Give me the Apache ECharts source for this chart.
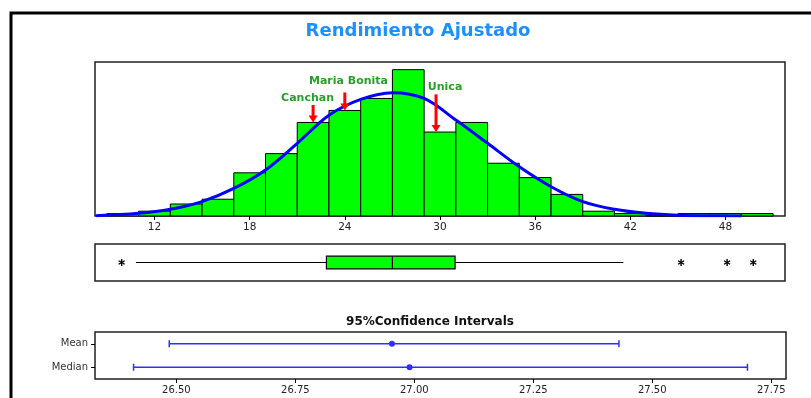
<!DOCTYPE html>
<html>
<head>
<meta charset="utf-8">
<script src="https://cdn.jsdelivr.net/npm/echarts@6/dist/echarts.min.js"></script>
<style>
  html, body { margin: 0; padding: 0; background: #ffffff; }
  #chart { width: 811px; height: 398px; }
</style>
</head>
<body>
<div id="chart"></div>
<script>
// ---- Data -------------------------------------------------------------
// Histogram: bins of width 2 starting at each value below
const binWidth = 2;
const binStarts = [9, 11, 13, 15, 17, 19, 21, 23, 25, 27, 29, 31, 33, 35, 37, 39, 41, 43, 45, 47, 49];
const binCounts = [1, 2, 5, 7, 18, 26, 39, 44, 49, 61, 35, 39, 22, 16, 9, 2, 1, 0, 1, 1, 1];

// Fitted normal curve (frequency scale)
const curveX = [8.3, 11, 13, 15, 17, 19, 21, 23, 25, 27, 29, 31, 33, 35, 37, 39, 41, 43, 45, 47, 49];
const curveY = [0.1, 1.1, 2.8, 6, 11.5, 19.2, 30.3, 42, 48.6, 51.4, 49, 40, 30.3, 20.5, 12.2, 6, 2.8, 1.1, 0.3, 0.1, 0];

const histTicks = [12, 18, 24, 30, 36, 42, 48];

// Variety markers on the histogram
const annotNames = ['Canchan', 'Maria Bonita', 'Unica'];
const annotX = [22, 24, 29.75];
const annotTop = [46.3, 51.5, 50.7];
const annotTip = [39, 44, 35];
const annotLabelX = [21.65, 24.23, 30.32];
const annotLabelY = [49.3, 56.25, 53.9];

// Boxplot: whisker low, Q1, median, Q3, whisker high
const boxStats = [10.83, 22.84, 27.0, 30.95, 41.56];
const outliers = [9.93, 45.2, 48.1, 49.75];

// 95% confidence intervals
const ciNames = ['Mean', 'Median'];
const ciLow = [26.485, 26.41];
const ciCenter = [26.953, 26.99];
const ciHigh = [27.43, 27.70];
const ciTicks = [26.5, 26.75, 27.0, 27.25, 27.5, 27.75];

// ---- Chart ------------------------------------------------------------
const chart = echarts.init(document.getElementById('chart'));
const FONT = '"DejaVu Sans", Verdana, sans-serif';
const xMin = 8.25, xMax = 51.75;

const gridBorder = { show: true, borderColor: '#222', borderWidth: 1.5, backgroundColor: 'transparent' };

const option = {
  animation: false,
  backgroundColor: '#ffffff',
  textStyle: { fontFamily: FONT },
  graphic: [
    { type: 'rect', z: 100, silent: true,
      shape: { x: 11, y: 13, width: 900, height: 500 },
      style: { fill: 'none', stroke: '#000', lineWidth: 3 } },
    { type: 'text', z: 100, x: 418, y: 31,
      style: { text: 'Rendimiento Ajustado', fill: '#1e8fff', font: 'bold 18px ' + FONT,
               align: 'center', verticalAlign: 'middle' } },
    { type: 'text', z: 100, x: 430, y: 322,
      style: { text: '95%Confidence Intervals', fill: '#111', font: 'bold 12px ' + FONT,
               align: 'center', verticalAlign: 'middle' } }
  ],
  grid: [
    Object.assign({ left: 95, right: 26, top: 62, height: 154 }, gridBorder),
    Object.assign({ left: 95, right: 26, top: 244, height: 37 }, gridBorder),
    Object.assign({ left: 95, right: 25, top: 332, height: 47 }, gridBorder)
  ],
  xAxis: [
    { type: 'value', gridIndex: 0, min: xMin, max: xMax,
      splitLine: { show: false }, axisLine: { show: false },
      axisTick: { show: true, inside: false, length: 4, customValues: histTicks,
                  lineStyle: { color: '#000', width: 1 } },
      axisLabel: { show: true, customValues: histTicks, margin: 6, color: '#222',
                   fontSize: 10.5, fontFamily: FONT } },
    { type: 'value', gridIndex: 1, min: xMin, max: xMax, show: false },
    { type: 'value', gridIndex: 2, min: 26.329, max: 27.781,
      splitLine: { show: false }, axisLine: { show: false },
      axisTick: { show: true, inside: false, length: 4, customValues: ciTicks,
                  lineStyle: { color: '#000', width: 1 } },
      axisLabel: { show: true, customValues: ciTicks, margin: 6, color: '#222',
                   fontSize: 10, fontFamily: FONT,
                   formatter: v => Number(v).toFixed(2) } }
  ],
  yAxis: [
    { type: 'value', gridIndex: 0, min: 0, max: 64.2, show: false },
    { type: 'category', gridIndex: 1, data: ['box'], show: false },
    { type: 'category', gridIndex: 2, data: ciNames, inverse: true,
      axisLine: { show: false }, splitLine: { show: false },
      axisTick: { show: true, alignWithLabel: true, length: 4, lineStyle: { color: '#000' } },
      axisLabel: { margin: 7, color: '#333', fontSize: 10, fontFamily: FONT } }
  ],
  series: [
    // histogram bars
    {
      type: 'custom', xAxisIndex: 0, yAxisIndex: 0, z: 2,
      data: binStarts.map((s, i) => [s, s + binWidth, binCounts[i]]),
      encode: { x: [0, 1], y: 2 },
      renderItem: (params, api) => {
        const p0 = api.coord([api.value(0), api.value(2)]);
        const p1 = api.coord([api.value(1), 0]);
        return { type: 'rect',
          shape: { x: p0[0], y: p0[1], width: p1[0] - p0[0], height: p1[1] - p0[1] },
          style: { fill: '#00ff00', stroke: '#000', lineWidth: 1 } };
      }
    },
    // normal curve
    {
      type: 'line', xAxisIndex: 0, yAxisIndex: 0, z: 3,
      data: curveX.map((x, i) => [x, curveY[i]]),
      smooth: 0.35, showSymbol: false, symbol: 'none',
      lineStyle: { color: '#0000ff', width: 3 }
    },
    // variety arrows and names
    {
      type: 'custom', xAxisIndex: 0, yAxisIndex: 0, z: 4,
      data: annotX.map((x, i) => [x, annotTop[i], annotTip[i], annotLabelX[i], annotLabelY[i]]),
      encode: { x: [0, 3], y: [1, 2, 4] },
      renderItem: (params, api) => {
        const a = api.coord([api.value(0), api.value(1)]);
        const b = api.coord([api.value(0), api.value(2)]);
        const l = api.coord([api.value(3), api.value(4)]);
        return { type: 'group', children: [
          { type: 'line', shape: { x1: a[0], y1: a[1], x2: b[0], y2: b[1] - 5 },
            style: { stroke: '#ff0000', lineWidth: 3 } },
          { type: 'polygon', shape: { points: [[b[0] - 4.5, b[1] - 7], [b[0] + 4.5, b[1] - 7], [b[0], b[1]]] },
            style: { fill: '#ff0000' } },
          { type: 'text', x: l[0], y: l[1],
            style: { text: annotNames[params.dataIndex], fill: '#2e9b2e',
                     font: 'bold 11px ' + FONT, align: 'center', verticalAlign: 'middle' } }
        ] };
      }
    },
    // boxplot
    {
      type: 'custom', xAxisIndex: 1, yAxisIndex: 1, z: 2,
      data: [boxStats.concat([0])],
      encode: { x: [0, 1, 2, 3, 4], y: 5 },
      renderItem: (params, api) => {
        const lo = api.coord([api.value(0), 0]);
        const q1 = api.coord([api.value(1), 0]);
        const md = api.coord([api.value(2), 0]);
        const q3 = api.coord([api.value(3), 0]);
        const hi = api.coord([api.value(4), 0]);
        const cy = lo[1], h = 12.6;
        return { type: 'group', children: [
          { type: 'line', shape: { x1: lo[0], y1: cy, x2: q1[0], y2: cy }, style: { stroke: '#000', lineWidth: 1 } },
          { type: 'line', shape: { x1: q3[0], y1: cy, x2: hi[0], y2: cy }, style: { stroke: '#000', lineWidth: 1 } },
          { type: 'rect', shape: { x: q1[0], y: cy - h / 2, width: q3[0] - q1[0], height: h },
            style: { fill: '#00ff00', stroke: '#000', lineWidth: 1.2 } },
          { type: 'line', shape: { x1: md[0], y1: cy - h / 2, x2: md[0], y2: cy + h / 2 }, style: { stroke: '#000', lineWidth: 1.2 } }
        ] };
      }
    },
    // outliers as asterisks
    {
      type: 'custom', xAxisIndex: 1, yAxisIndex: 1, z: 3,
      data: outliers.map(v => [v, 0]),
      encode: { x: 0, y: 1 },
      renderItem: (params, api) => {
        const p = api.coord([api.value(0), 0]);
        const r = 3.5, c = r * Math.cos(Math.PI / 6), s = r * Math.sin(Math.PI / 6);
        const st = { stroke: '#000', lineWidth: 1.4 };
        return { type: 'group', children: [
          { type: 'line', shape: { x1: p[0], y1: p[1] - r, x2: p[0], y2: p[1] + r }, style: st },
          { type: 'line', shape: { x1: p[0] - c, y1: p[1] - s, x2: p[0] + c, y2: p[1] + s }, style: st },
          { type: 'line', shape: { x1: p[0] - c, y1: p[1] + s, x2: p[0] + c, y2: p[1] - s }, style: st }
        ] };
      }
    },
    // confidence intervals
    {
      type: 'custom', xAxisIndex: 2, yAxisIndex: 2, z: 3,
      data: ciNames.map((n, i) => [ciLow[i], ciCenter[i], ciHigh[i], i]),
      encode: { x: [0, 1, 2], y: 3 },
      renderItem: (params, api) => {
        const idx = api.value(3);
        const a = api.coord([api.value(0), idx]);
        const m = api.coord([api.value(1), idx]);
        const b = api.coord([api.value(2), idx]);
        const col = '#2f2fff', cap = 3.5;
        const st = { stroke: col, lineWidth: 1.5 };
        return { type: 'group', children: [
          { type: 'line', shape: { x1: a[0], y1: a[1], x2: b[0], y2: b[1] }, style: st },
          { type: 'line', shape: { x1: a[0], y1: a[1] - cap, x2: a[0], y2: a[1] + cap }, style: st },
          { type: 'line', shape: { x1: b[0], y1: b[1] - cap, x2: b[0], y2: b[1] + cap }, style: st },
          { type: 'circle', shape: { cx: m[0], cy: m[1], r: 3 }, style: { fill: col } }
        ] };
      }
    }
  ]
};

chart.setOption(option);
</script>
</body>
</html>
